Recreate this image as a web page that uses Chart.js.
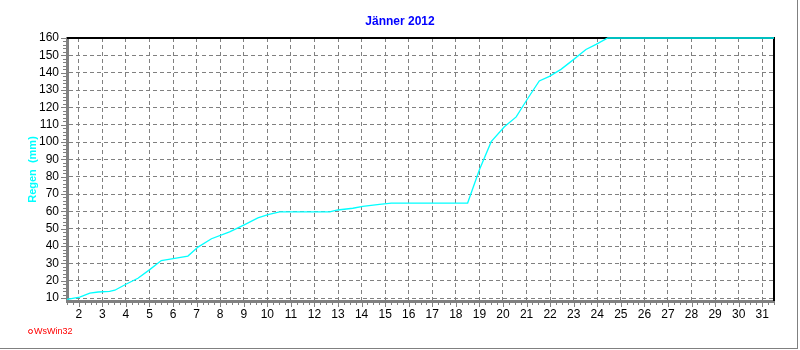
<!DOCTYPE html>
<html>
<head>
<meta charset="utf-8">
<script src="https://cdn.jsdelivr.net/npm/chart.js@4"></script>
<style>
  html, body { margin: 0; padding: 0; background: #fff; }
  #wrap { width: 800px; height: 350px; }
</style>
</head>
<body>
<div id="wrap"><canvas id="regen-chart" width="800" height="350"></canvas></div>
<script>
// cumulative rain, January 2012 (day of month -> mm)
var dayValues = [1.5, 2.04, 2.47, 2.82, 3.31, 3.53, 4.02, 4.51, 5.01, 5.5, 6.07, 6.63, 7.06, 7.63, 8.4, 9.04, 9.6, 10.03, 10.52,
    12.65, 12.99, 13.63, 14.05, 14.76, 15.26, 18.5, 18.65, 19.0, 19.5, 20.06, 20.56, 21.05, 21.54, 21.97, 22.46, 22.95,
    23.52, 23.95, 24.45, 31.5];
var rainValues = [9.2, 10.5, 12.8, 13.5, 13.8, 14.5, 18.1, 21.4, 26.4, 31.6, 32.9, 34.2, 39.4, 44.2, 48.2, 52.4, 56.2, 58.1, 59.7,
    59.7, 60.8, 61.8, 62.9, 64.0, 64.8, 64.8, 70.6, 84, 100.2, 108.8, 114.5, 125.1, 135.2, 137.9, 141.9, 147.1,
    153.4, 156.3, 160, 160];
var dayTicks = [2, 3, 4, 5, 6, 7, 8, 9, 10, 11, 12, 13, 14, 15, 16, 17, 18, 19, 20, 21, 22, 23, 24, 25, 26, 27, 28, 29, 30, 31];
var rainTicks = [10, 20, 30, 40, 50, 60, 70, 80, 90, 100, 110, 120, 130, 140, 150, 160];

var points = [];
for (var i = 0; i < dayValues.length; i++) {
    points.push({ x: dayValues[i], y: rainValues[i] });
}

// black top/right frame, minor ticks, outer frame and WsWin32 tag
var framePlugin = {
    id: 'frame',
    beforeDatasetsDraw: function (chart) {
        var ctx = chart.ctx, a = chart.chartArea;
        var xs = chart.scales.x, ys = chart.scales.y;
        ctx.save();
        ctx.strokeStyle = '#000';
        ctx.lineWidth = 2;
        ctx.beginPath();
        ctx.moveTo(a.left, a.top);
        ctx.lineTo(a.right, a.top);
        ctx.lineTo(a.right, a.bottom);
        ctx.stroke();

        ctx.strokeStyle = '#808080';
        ctx.lineWidth = 1;
        ctx.beginPath();
        for (var q = 6; q <= 126; q++) {
            var v = q / 4;
            var px = Math.round(xs.getPixelForValue(v)) + 0.5;
            var len = (q % 4 === 0) ? 5 : 3;
            ctx.moveTo(px, a.bottom + 1);
            ctx.lineTo(px, a.bottom + 1 + len);
        }
        for (var r = 10; r <= 160; r += 2) {
            var py = Math.round(ys.getPixelForValue(r)) + 0.5;
            var l2 = (r % 10 === 0) ? 5 : 3;
            ctx.moveTo(a.left - 1, py);
            ctx.lineTo(a.left - 1 - l2, py);
        }
        ctx.stroke();
        ctx.restore();
    },
    afterDraw: function (chart) {
        var ctx = chart.ctx;
        ctx.save();
        ctx.strokeStyle = '#808080';
        ctx.lineWidth = 1;
        ctx.beginPath();
        ctx.moveTo(797.5, 0);
        ctx.lineTo(797.5, 349);
        ctx.moveTo(0, 348.5);
        ctx.lineTo(798, 348.5);
        ctx.stroke();

        ctx.fillStyle = '#ff0000';
        ctx.strokeStyle = '#ff0000';
        ctx.beginPath();
        ctx.arc(30.5, 331.5, 2, 0, Math.PI * 2);
        ctx.stroke();
        ctx.font = '9px "Liberation Sans", Arial, sans-serif';
        ctx.textBaseline = 'middle';
        ctx.fillText('WsWin32', 34, 332);
        ctx.restore();
    }
};

var context = document.getElementById('regen-chart').getContext('2d');
var regenChart = new Chart(context, {
    type: 'line',
    data: {
        datasets: [{
            data: points,
            borderColor: '#00ffff',
            borderWidth: 1.3,
            pointRadius: 0,
            tension: 0,
            fill: false,
            clip: 2
        }]
    },
    options: {
        responsive: false,
        animation: false,
        devicePixelRatio: 1,
        layout: { padding: { left: 26, right: 26, top: 0, bottom: 0 } },
        plugins: {
            legend: { display: false },
            tooltip: { enabled: false },
            title: {
                display: true,
                text: 'Jänner 2012',
                color: '#0000ff',
                font: { family: '"Liberation Sans", Arial, sans-serif', size: 12, weight: 'bold' },
                padding: { top: 14.8, bottom: 8.8 }
            }
        },
        scales: {
            x: {
                type: 'linear',
                min: 1.5,
                max: 31.5,
                afterBuildTicks: function (axis) {
                    axis.ticks = dayTicks.map(function (v) { return { value: v }; });
                },
                afterFit: function (axis) { axis.height = 49; },
                grid: { color: '#808080', lineWidth: 1, drawTicks: false },
                border: { display: true, color: '#808080', width: 3, dash: [4, 3] },
                ticks: {
                    color: '#000',
                    padding: 6,
                    maxRotation: 0,
                    autoSkip: false,
                    font: { family: '"Liberation Sans", Arial, sans-serif', size: 12 }
                }
            },
            y: {
                type: 'linear',
                min: 8.3,
                max: 160,
                afterBuildTicks: function (axis) {
                    axis.ticks = rainTicks.map(function (v) { return { value: v }; });
                },
                afterFit: function (axis) { axis.width = 41; },
                grid: { color: '#808080', lineWidth: 1, drawTicks: false },
                border: { display: true, color: '#808080', width: 3, dash: [4, 3] },
                title: {
                    display: true,
                    text: 'Regen  (mm)',
                    color: '#00ffff',
                    font: { family: '"Liberation Sans", Arial, sans-serif', size: 11, weight: 'bold' },
                    padding: { top: 0, bottom: 0 }
                },
                ticks: {
                    color: '#000',
                    padding: 8,
                    autoSkip: false,
                    font: { family: '"Liberation Sans", Arial, sans-serif', size: 12 }
                }
            }
        }
    },
    plugins: [framePlugin]
});
</script>
</body>
</html>
